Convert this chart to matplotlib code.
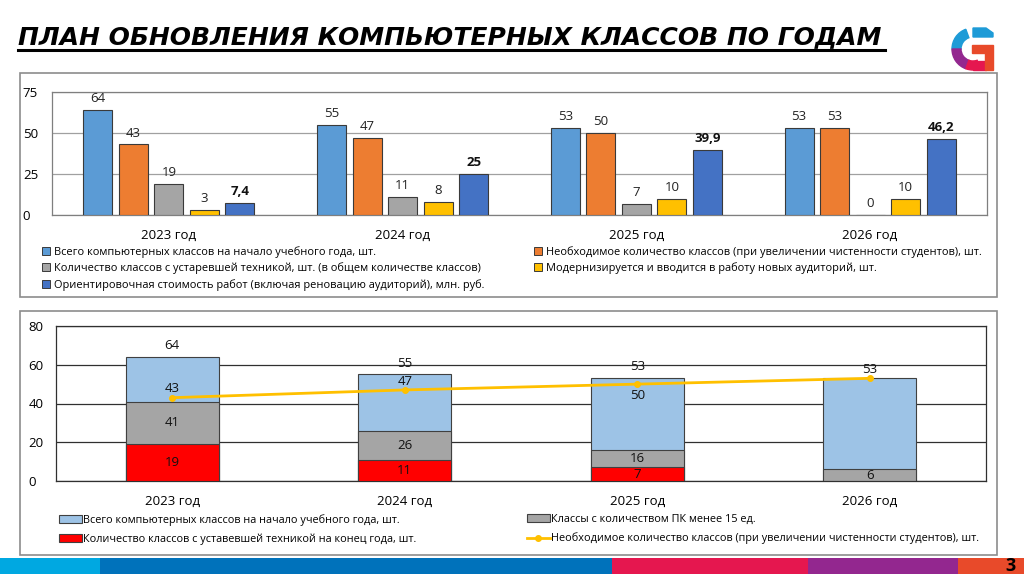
import matplotlib
matplotlib.use("Agg")
import matplotlib.pyplot as plt
import numpy as np
from matplotlib.patches import Rectangle, Wedge, Polygon
from matplotlib.lines import Line2D

plt.rcParams['font.family'] = ['Open Sans', 'DejaVu Sans']

# ---------------- data ----------------
years = ["2023 год", "2024 год", "2025 год", "2026 год"]

# top chart
total_start = [64, 55, 53, 53]
needed = [43, 47, 50, 53]
outdated = [19, 11, 7, 0]
modernized = [3, 8, 10, 10]
cost = [7.4, 25, 39.9, 46.2]
cost_labels = ["7,4", "25", "39,9", "46,2"]

top_names = [
    "Всего компьютерных классов на начало учебного года, шт.",
    "Необходимое количество классов (при увеличении чистенности студентов), шт.",
    "Количество классов с устаревшей техникой, шт. (в общем количестве классов)",
    "Модернизируется и вводится в работу новых аудиторий, шт.",
    "Ориентировочная стоимость работ (включая реновацию аудиторий), млн. руб.",
]
top_ticks = [0, 25, 50, 75]

# bottom chart
b_total = [64, 55, 53, 53]
b_less15 = [41, 26, 16, 6]
b_outdated_end = [19, 11, 7, 0]
b_needed = [43, 47, 50, 53]
bottom_names = [
    "Всего компьютерных классов на начало учебного года, шт.",
    "Количество классов с уставевшей техникой на конец года, шт.",
    "Классы с количеством ПК менее 15 ед.",
    "Необходимое количество классов (при увеличении чистенности студентов), шт.",
]
bottom_ticks = [0, 20, 40, 60, 80]

title = "ПЛАН ОБНОВЛЕНИЯ КОМПЬЮТЕРНЫХ КЛАССОВ ПО ГОДАМ"

# ---------------- figure ----------------
W, H = 1024, 574
fig = plt.figure(figsize=(W / 100, H / 100), dpi=100)
fig.patch.set_facecolor("white")


def fx(px):
    return px / W


def fy(py):
    return 1 - py / H


def add_ax(x0, y0, x1, y1):
    return fig.add_axes([fx(x0), fy(y1), fx(x1) - fx(x0), (y1 - y0) / H])


# panel boxes
for (x0, y0, x1, y1) in [(20, 73, 997, 297), (20, 311, 997, 555)]:
    fig.patches.append(Rectangle((fx(x0), fy(y1)), fx(x1) - fx(x0), (y1 - y0) / H,
                                 transform=fig.transFigure, fill=False,
                                 edgecolor="#8c8c8c", lw=1.2))

# title
fig.text(fx(18), fy(37), title, fontsize=18, fontweight="bold", style="italic",
         family=["DejaVu Sans"], va="center", ha="left", color="black")
fig.add_artist(Line2D([fx(18), fx(885)], [fy(50), fy(50)], color="black", lw=2.2,
                      transform=fig.transFigure))

# bottom strip
strip = [(0, 100, "#00A8E1"), (100, 612, "#0072BB"), (612, 808, "#E5174F"),
         (808, 958, "#93278F"), (958, 1024, "#E84A2A")]
for a, b, c in strip:
    fig.patches.append(Rectangle((fx(a), 0), fx(b) - fx(a), 16 / H,
                                 transform=fig.transFigure, color=c, lw=0))
fig.text(fx(1011), fy(566), "3", fontsize=13, fontweight="bold", ha="center",
         va="center", color="black")

# logo (pixel coordinates)
lax = add_ax(946, 24, 1000, 74)
lax.set_xlim(946, 1000)
lax.set_ylim(74, 24)
lax.axis("off")
cx, cy, r, t = 973, 49, 21, 9
lax.add_patch(Wedge((cx, cy), r, 180, 250, width=t, color="#1E9BD7"))
lax.add_patch(Wedge((cx, cy), r, 110, 180, width=t, color="#93278F"))
lax.add_patch(Wedge((cx, cy), r, 70, 110, width=t, color="#E5174F"))
lax.add_patch(Polygon([[973, 28], [986, 28], [993, 33], [993, 37], [973, 37]],
                      closed=True, color="#1E9BD7"))
lax.add_patch(Polygon([[973, 61], [986, 61], [986, 70], [973, 70]],
                      closed=True, color="#E5174F"))
lax.add_patch(Polygon([[972, 45], [993, 45], [993, 70], [985, 70], [985, 53], [972, 53]],
                      closed=True, color="#E84A2A"))

# ---------------- top chart ----------------
ax1 = add_ax(52, 92, 987, 215)
x = np.arange(len(years))
top_series = [total_start, needed, outdated, modernized, cost]
top_colors = ["#5B9BD5", "#ED7D31", "#A5A5A5", "#FFC000", "#4472C4"]
pitch = 0.152
bw = 0.124
for i, (vals, col) in enumerate(zip(top_series, top_colors)):
    xs = x + (i - 2) * pitch
    ax1.bar(xs, vals, width=bw, color=col, edgecolor="#3a3a3a", lw=0.8, zorder=3)
    for j, v in enumerate(vals):
        if i == 4:
            ax1.text(xs[j], v + 3, cost_labels[j], ha="center", va="bottom",
                     fontsize=9.5, fontweight="bold", color="#111111")
        else:
            ax1.text(xs[j], v + 3, str(v), ha="center", va="bottom", fontsize=9.5,
                     color="#222222")
ax1.set_xlim(-0.5, len(years) - 0.5)
ax1.set_ylim(0, 75)
ax1.set_yticks(top_ticks)
ax1.yaxis.grid(True, color="#a0a0a0", lw=0.9, zorder=0)
ax1.set_axisbelow(True)
ax1.set_xticks(x)
ax1.set_xticklabels(years, fontsize=9.5)
ax1.tick_params(axis="x", length=0, pad=10)
ax1.tick_params(axis="y", length=0, labelsize=9.5, pad=21)
for lbl in ax1.get_yticklabels():
    lbl.set_horizontalalignment("left")
for s in ax1.spines.values():
    s.set_color("#7f7f7f")
    s.set_linewidth(0.9)


def sq(col):
    return Rectangle((0, 0), 1, 1, facecolor=col, edgecolor="#3a3a3a", lw=0.7)


leg_kw = dict(frameon=False, fontsize=7.9, handlelength=0.72, handleheight=0.72,
              handletextpad=0.35, labelspacing=0.42, borderaxespad=0, borderpad=0)
fig.legend([sq(top_colors[0]), sq(top_colors[2]), sq(top_colors[4])],
           [top_names[0], top_names[2], top_names[4]],
           loc="upper left", bbox_to_anchor=(fx(42), fy(246)), **leg_kw)
fig.legend([sq(top_colors[1]), sq(top_colors[3])],
           [top_names[1], top_names[3]],
           loc="upper left", bbox_to_anchor=(fx(534), fy(246)), **leg_kw)

# ---------------- bottom chart ----------------
ax2 = add_ax(56, 326, 986, 481)
bw2 = 0.40
c_total, c_less, c_red, c_line = "#9DC3E6", "#A5A5A5", "#FF0000", "#FFC000"
ax2.bar(x, b_total, width=bw2, color=c_total, edgecolor="#404040", lw=0.8, zorder=3)
ax2.bar(x, b_less15, width=bw2, color=c_less, edgecolor="#404040", lw=0.8, zorder=4)
ax2.bar(x, b_outdated_end, width=bw2, color=c_red, edgecolor="#404040", lw=0.8, zorder=5)
ax2.plot(x, b_needed, color=c_line, lw=2, marker="o", ms=4, zorder=6)

lab_fs = 9.5
for j in range(len(years)):
    if j < 3:
        ax2.text(x[j], b_total[j] + 2.5, str(b_total[j]), ha="center", va="bottom",
                 fontsize=lab_fs, color="#111111", zorder=7)
    mid = (b_less15[j] + b_outdated_end[j]) / 2
    ax2.text(x[j], mid, str(b_less15[j]), ha="center", va="center",
             fontsize=lab_fs, color="#111111", zorder=7)
    if b_outdated_end[j] > 0:
        ax2.text(x[j], b_outdated_end[j] / 2, str(b_outdated_end[j]), ha="center",
                 va="center", fontsize=lab_fs, color="#111111", zorder=7)
    if j == 2:
        ax2.text(x[j], b_needed[j] - 2.5, str(b_needed[j]), ha="center", va="top",
                 fontsize=lab_fs, color="#111111", zorder=7)
    else:
        ax2.text(x[j], b_needed[j] + 1.2, str(b_needed[j]), ha="center", va="bottom",
                 fontsize=lab_fs, color="#111111", zorder=7)

ax2.set_xlim(-0.5, len(years) - 0.5)
ax2.set_ylim(0, 80)
ax2.set_yticks(bottom_ticks)
ax2.yaxis.grid(True, color="#303030", lw=0.9, zorder=0)
ax2.set_axisbelow(True)
ax2.set_xticks(x)
ax2.set_xticklabels(years, fontsize=9.5)
ax2.tick_params(axis="x", length=0, pad=10)
ax2.tick_params(axis="y", length=0, labelsize=9.5, pad=20)
for lbl in ax2.get_yticklabels():
    lbl.set_horizontalalignment("left")
for s in ax2.spines.values():
    s.set_color("#303030")
    s.set_linewidth(0.9)


def wide(col):
    return Rectangle((0, 0), 1, 1, facecolor=col, edgecolor="#404040", lw=0.8)


leg_kw2 = dict(frameon=False, fontsize=7.8, handlelength=2.1, handleheight=0.75,
               handletextpad=0.1, labelspacing=0.7, borderaxespad=0, borderpad=0)
fig.legend([wide(c_total), wide(c_red)], [bottom_names[0], bottom_names[1]],
           loc="upper left", bbox_to_anchor=(fx(59), fy(514)), **leg_kw2)
fig.legend([wide(c_less), Line2D([0], [0], color=c_line, lw=2, marker="o", ms=4)],
           [bottom_names[2], bottom_names[3]],
           loc="upper left", bbox_to_anchor=(fx(527), fy(514)), **leg_kw2)

fig.savefig("out.png", dpi=100, facecolor="white")
